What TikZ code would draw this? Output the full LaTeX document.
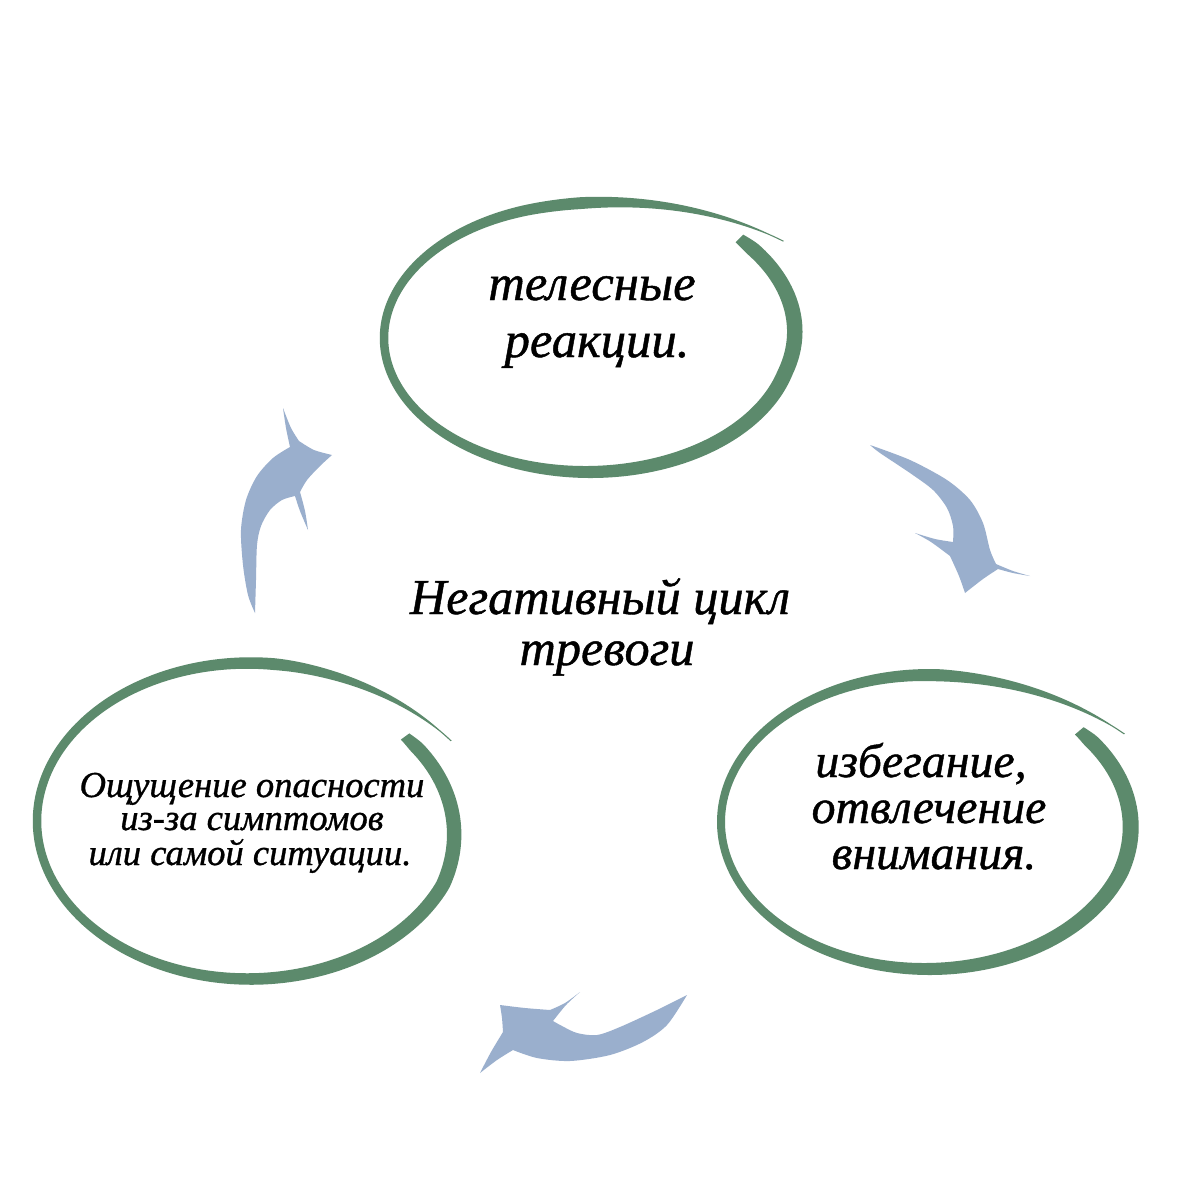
\documentclass[tikz,border=0pt]{standalone}
\usepackage{fontspec}
\setmainfont{Liberation Serif}
\newfontfamily\handfont{Liberation Serif}[FakeBold=0.9]
\definecolor{ringgreen}{RGB}{92,138,108}
\definecolor{arrowblue}{RGB}{154,175,205}
\tikzset{
  declare function={
    bS(\t)=1+((\sA)-1)*max(0,1-(\t-(\tA))/60)+((\sB)-1)*(max(0,(\t-(\tF))/((\tB)-(\tF))))^2;
    bW(\t)=max(1.2,((\wA)+(\wB)*cos(\t))*min(1,((\tB)-\t)/(\tL)))*min(1,0.75+(\t-(\tA))/20);
  },
  ringfill/.style={fill=ringgreen},
  arrowfill/.style={fill=arrowblue},
  bigtext/.style={font=\handfont\fontsize{14.4}{16}\selectfont\itshape, anchor=base, inner sep=0pt},
  midtext/.style={font=\handfont\fontsize{14.3}{16}\selectfont\itshape, anchor=base, inner sep=0pt},
  smalltext/.style={font=\handfont\fontsize{10.4}{12}\selectfont\itshape, anchor=base, inner sep=0pt},
  righttext/.style={font=\handfont\fontsize{13.6}{15}\selectfont\itshape, anchor=base, inner sep=0pt},
}
\newcommand\brushloop{%
  \fill[ringfill] plot[domain=\tA:\tB,samples=260,variable=\t]
    ({\cX+(\rX*bS(\t)+bW(\t)/2)*cos(\t)},{\cY+(\rY*bS(\t)+bW(\t)/2)*sin(\t)})
    -- plot[domain=\tB:\tA,samples=260,variable=\t]
    ({\cX+(\rX*bS(\t)-bW(\t)/2)*cos(\t)},{\cY+(\rY*bS(\t)-bW(\t)/2)*sin(\t)})
    -- cycle;}
\begin{document}
\begin{tikzpicture}[x=0.01cm,y=-0.01cm]
\useasboundingbox (0,0) rectangle (1200,1200);
\fill[white] (0,0) rectangle (1200,1200);

% top ring
\def\cX{588}\def\cY{338}\def\rX{204}\def\rY{134}
\def\tA{-45}\def\sA{1.05}\def\tB{323}\def\sB{1.2}\def\tF{255}
\def\wA{12}\def\wB{3.5}\def\tL{55}
\brushloop
% left ring
\def\cX{249}\def\cY{821}\def\rX{212}\def\rY{158}
\def\tA{-36}\def\sA{0.91}\def\tB{332}\def\sB{1.08}\def\tF{285}
\def\wA{11.5}\def\wB{3}\def\tL{55}
\brushloop
% right ring
\def\cX{927}\def\cY{822}\def\rX{206}\def\rY{147}
\def\tA{-40}\def\sA{0.965}\def\tB{328}\def\sB{1.13}\def\tF{275}
\def\wA{12}\def\wB{4}\def\tL{55}
\brushloop

% texts
\node[bigtext] (top1) at (592,300) {телесные};
\node[bigtext] (top2) at (597,357) {реакции.};
\node[midtext] (mid1) at (600,614) {Негативный цикл};
\node[midtext] (mid2) at (607,665) {тревоги};
\node[smalltext] (left1) at (252,797) {Ощущение опасности};
\node[smalltext] (left2) at (252,830) {из-за симптомов};
\node[smalltext] (left3) at (250,865) {или самой ситуации.};
\node[righttext] (right1) at (921,777) {избегание,};
\node[righttext] (right2) at (929,823) {отвлечение};
\node[righttext] (right3) at (934,869) {внимания.};

% left arrow (up)
\fill[arrowfill] (255,613)
  -- plot[smooth] coordinates {(255,613) (248,595) (243,565) (241,530) (246,500) (257,476) (273,458) (290,447)}
  -- plot[smooth] coordinates {(290,447) (286,428) (283,408)}
  -- plot[smooth] coordinates {(283,408) (291,428) (299,441)}
  -- plot[smooth] coordinates {(299,441) (314,450) (332,455)}
  -- plot[smooth] coordinates {(332,455) (320,466) (307,480) (300,492)}
  -- plot[smooth] coordinates {(300,492) (305,511) (308,530)}
  -- plot[smooth] coordinates {(308,530) (300,511) (295,496)}
  -- plot[smooth] coordinates {(295,496) (282,500) (270,510) (261,526) (257,545) (256,580) (255,613)}
  -- cycle;

% right arrow (down)
\fill[arrowfill] (870,445)
  -- plot[smooth] coordinates {(870,445) (910,460) (947,480) (970,500) (983,523) (990,550) (996,564)}
  -- plot[smooth] coordinates {(996,564) (1013,571) (1030,576)}
  -- plot[smooth] coordinates {(1030,576) (1013,573) (998,569)}
  -- plot[smooth] coordinates {(998,569) (983,579) (965,593)}
  -- plot[smooth] coordinates {(965,593) (959,576) (950,556)}
  -- plot[smooth] coordinates {(950,556) (931,542) (915,533)}
  -- plot[smooth] coordinates {(915,533) (935,539) (953,542)}
  -- plot[smooth] coordinates {(953,542) (953,526) (947,508) (933,490) (910,473) (880,453) (870,445)}
  -- cycle;

% bottom arrow (left)
\fill[arrowfill] (687,995)
  -- plot[smooth] coordinates {(687,995) (657,1010) (620,1027) (597,1035) (577,1033) (562,1026) (553,1021)}
  -- plot[smooth] coordinates {(553,1021) (566,1005) (580,992)}
  -- plot[smooth] coordinates {(580,992) (565,1003) (550,1010)}
  -- plot[smooth] coordinates {(550,1010) (525,1008) (500,1005)}
  -- plot[smooth] coordinates {(500,1005) (502,1018) (503,1032)}
  -- plot[smooth] coordinates {(503,1032) (491,1052) (480,1073)}
  -- plot[smooth] coordinates {(480,1073) (497,1060) (513,1050)}
  -- plot[smooth] coordinates {(513,1050) (537,1058) (570,1061) (610,1055) (643,1042) (667,1025) (687,995)}
  -- cycle;
\end{tikzpicture}
\end{document}
